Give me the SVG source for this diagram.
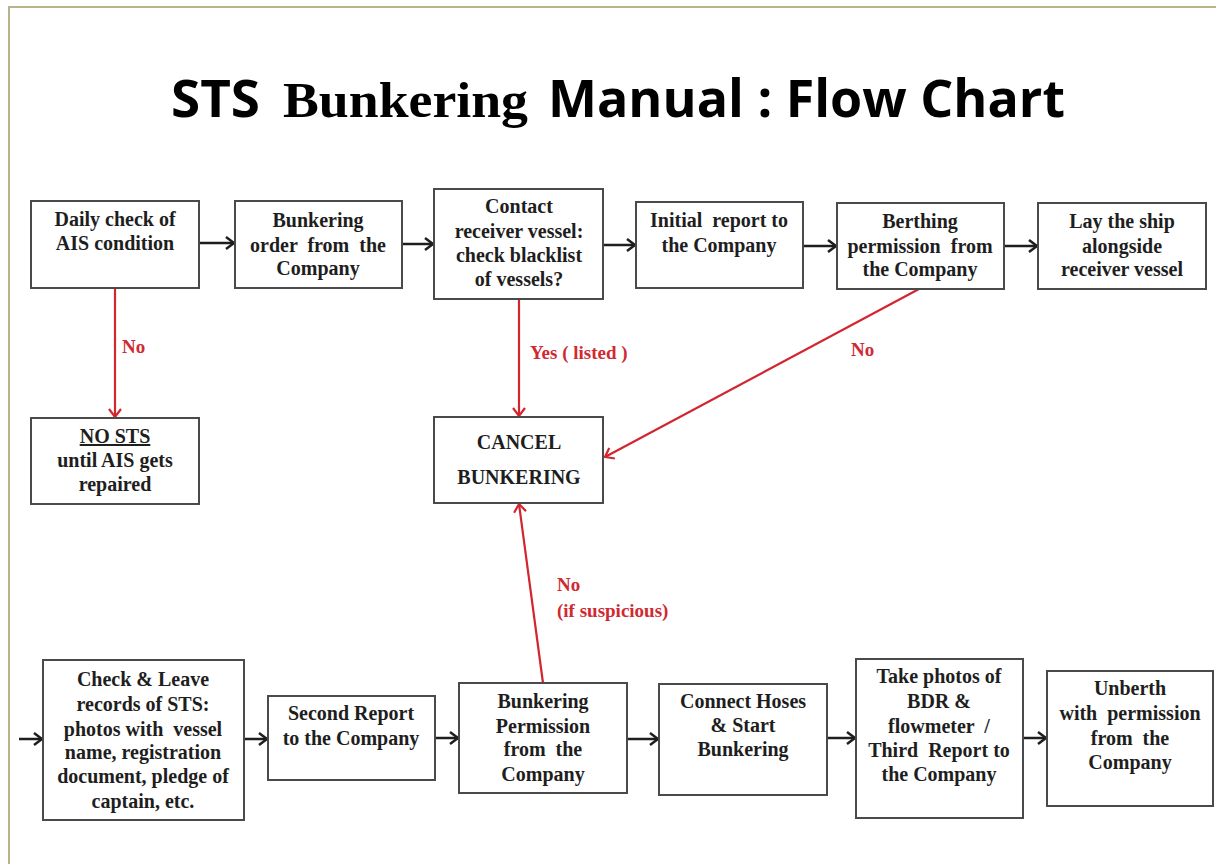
<svg xmlns="http://www.w3.org/2000/svg" width="1216" height="864" viewBox="0 0 1216 864">
<style>
.box{fill:#fff;stroke:#4a4a4a;stroke-width:2}
.t{font-family:"Liberation Serif","Times New Roman",serif;font-weight:bold;font-size:20px;fill:#1e1e1e;text-anchor:middle}
.lbl{font-family:"Liberation Serif","Times New Roman",serif;font-weight:bold;font-size:19px;fill:#cf2a33}
.blk{stroke:#1e1e1e;stroke-width:2.5;fill:none;marker-end:url(#ab)}
.red{stroke:#d3252f;stroke-width:2.2;fill:none;marker-end:url(#ar)}
.ts{font-family:"Open Sans","Noto Sans",sans-serif;font-weight:bold;font-size:52px;fill:#000}
.tr{font-family:"Liberation Serif","Times New Roman",serif;font-weight:bold;font-size:50px;fill:#000}
</style>
<defs>
<marker id="ab" markerUnits="userSpaceOnUse" markerWidth="14" markerHeight="16" refX="11" refY="8" orient="auto">
<path d="M3,2 L11,8 L3,14" fill="none" stroke="#1e1e1e" stroke-width="2.5"/>
</marker>
<marker id="ar" markerUnits="userSpaceOnUse" markerWidth="14" markerHeight="16" refX="11" refY="8" orient="auto">
<path d="M3,2 L11,8 L3,14" fill="none" stroke="#d3252f" stroke-width="2.2"/>
</marker>
</defs>
<rect x="0" y="0" width="1216" height="864" fill="#fff"/>
<path d="M9,864 L9,7 L1216,7" fill="none" stroke="#b8b38a" stroke-width="2"/>

<g id="title">
<text class="ts" x="171" y="117" textLength="89" lengthAdjust="spacingAndGlyphs">STS</text>
<text class="tr" x="283" y="117" textLength="245" lengthAdjust="spacingAndGlyphs">Bunkering</text>
<text class="ts" x="548" y="117" textLength="517" lengthAdjust="spacingAndGlyphs">Manual : Flow Chart</text>
</g>

<g id="connectors">
<line class="blk" x1="199" y1="243" x2="234" y2="243"/>
<line class="blk" x1="402" y1="244" x2="433" y2="244"/>
<line class="blk" x1="603" y1="245" x2="635" y2="245"/>
<line class="blk" x1="803" y1="246" x2="836" y2="246"/>
<line class="blk" x1="1004" y1="246" x2="1037" y2="246"/>
<line class="blk" x1="19" y1="739" x2="42" y2="739"/>
<line class="blk" x1="244" y1="739" x2="267" y2="739"/>
<line class="blk" x1="435" y1="738" x2="458" y2="738"/>
<line class="blk" x1="627" y1="739" x2="658" y2="739"/>
<line class="blk" x1="827" y1="738" x2="855" y2="738"/>
<line class="blk" x1="1023" y1="738" x2="1046" y2="738"/>
<line class="red" x1="115" y1="288" x2="115" y2="417"/>
<line class="red" x1="519" y1="299" x2="519" y2="416"/>
<line class="red" x1="919" y1="289" x2="605" y2="457"/>
<line class="red" x1="543" y1="683" x2="519" y2="504"/>
<text class="lbl" x="122" y="353">No</text>
<text class="lbl" x="530" y="359">Yes ( listed )</text>
<text class="lbl" x="851" y="356">No</text>
<text class="lbl" x="557" y="591">No</text>
<text class="lbl" x="557" y="617">(if suspicious)</text>
</g>

<g id="n1"><rect class="box" x="31" y="201" width="168" height="87"/>
<text class="t" x="115" y="226">Daily check of</text>
<text class="t" x="115" y="250">AIS condition</text></g>

<g id="n2"><rect class="box" x="235" y="201" width="167" height="87"/>
<text class="t" x="318" y="227">Bunkering</text>
<text class="t" x="318" y="252" xml:space="preserve">order  from  the</text>
<text class="t" x="318" y="275">Company</text></g>

<g id="n3"><rect class="box" x="434" y="189" width="169" height="110"/>
<text class="t" x="519" y="213">Contact</text>
<text class="t" x="519" y="238">receiver vessel:</text>
<text class="t" x="519" y="262">check blacklist</text>
<text class="t" x="519" y="286">of vessels?</text></g>

<g id="n4"><rect class="box" x="636" y="202" width="167" height="86"/>
<text class="t" x="719" y="227" xml:space="preserve">Initial  report to</text>
<text class="t" x="719" y="252">the Company</text></g>

<g id="n5"><rect class="box" x="837" y="203" width="167" height="86"/>
<text class="t" x="920" y="228">Berthing</text>
<text class="t" x="920" y="253" xml:space="preserve">permission  from</text>
<text class="t" x="920" y="276">the Company</text></g>

<g id="n6"><rect class="box" x="1038" y="203" width="168" height="86"/>
<text class="t" x="1122" y="228">Lay the ship</text>
<text class="t" x="1122" y="253">alongside</text>
<text class="t" x="1122" y="276">receiver vessel</text></g>

<g id="n7"><rect class="box" x="31" y="418" width="168" height="86"/>
<text class="t" x="115" y="443" text-decoration="underline">NO STS</text>
<text class="t" x="115" y="467">until AIS gets</text>
<text class="t" x="115" y="491">repaired</text></g>

<g id="n8"><rect class="box" x="434" y="417" width="169" height="86"/>
<text class="t" x="519" y="449">CANCEL</text>
<text class="t" x="519" y="484">BUNKERING</text></g>

<g id="n9"><rect class="box" x="43" y="660" width="201" height="160"/>
<text class="t" x="143" y="686">Check &amp; Leave</text>
<text class="t" x="143" y="711">records of STS:</text>
<text class="t" x="143" y="736" xml:space="preserve">photos with  vessel</text>
<text class="t" x="143" y="759">name, registration</text>
<text class="t" x="143" y="783">document, pledge of</text>
<text class="t" x="143" y="808">captain, etc.</text></g>

<g id="n10"><rect class="box" x="268" y="696" width="167" height="84"/>
<text class="t" x="351" y="720">Second Report</text>
<text class="t" x="351" y="745">to the Company</text></g>

<g id="n11"><rect class="box" x="459" y="683" width="168" height="110"/>
<text class="t" x="543" y="708">Bunkering</text>
<text class="t" x="543" y="733">Permission</text>
<text class="t" x="543" y="756" xml:space="preserve">from  the</text>
<text class="t" x="543" y="781">Company</text></g>

<g id="n12"><rect class="box" x="659" y="684" width="168" height="111"/>
<text class="t" x="743" y="708">Connect Hoses</text>
<text class="t" x="743" y="732">&amp; Start</text>
<text class="t" x="743" y="756">Bunkering</text></g>

<g id="n13"><rect class="box" x="856" y="659" width="167" height="159"/>
<text class="t" x="939" y="683">Take photos of</text>
<text class="t" x="939" y="708">BDR &amp;</text>
<text class="t" x="939" y="733" xml:space="preserve">flowmeter  /</text>
<text class="t" x="939" y="757" xml:space="preserve">Third  Report to</text>
<text class="t" x="939" y="781">the Company</text></g>

<g id="n14"><rect class="box" x="1047" y="671" width="166" height="135"/>
<text class="t" x="1130" y="695">Unberth</text>
<text class="t" x="1130" y="720" xml:space="preserve">with  permission</text>
<text class="t" x="1130" y="745" xml:space="preserve">from  the</text>
<text class="t" x="1130" y="769">Company</text></g>
</svg>
